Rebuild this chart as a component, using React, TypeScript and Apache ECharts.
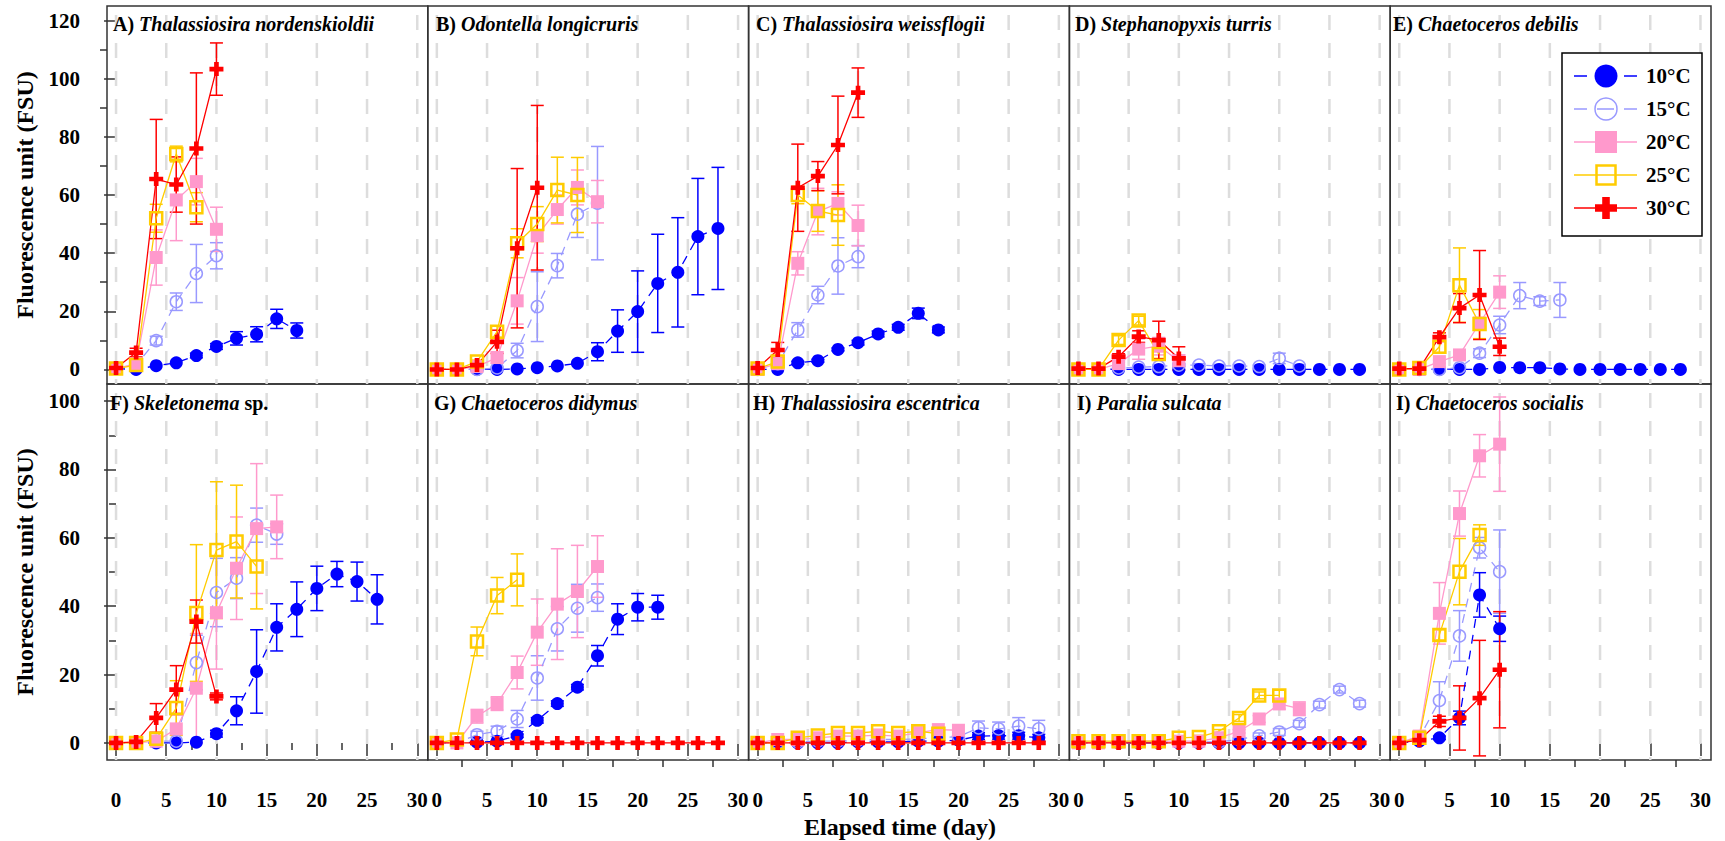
import React, { useEffect, useRef } from "react";
import * as echarts from "echarts";

const DAYS = [0, 2, 4, 6, 8, 10, 12, 14, 16, 18, 20, 22, 24, 26, 28];
const TEMPS = ["10°C", "15°C", "20°C", "25°C", "30°C"];
const COLORS = ["#0000ff", "#9999ff", "#ff99cc", "#ffcc00", "#ff0000"];

const PANEL_LETTERS = ["A)", "B)", "C)", "D)", "E)", "F)", "G)", "H)", "I)", "I)"];
const PANEL_SPECIES = [
  "Thalassiosira nordenskioldii", "Odontella longicruris", "Thalassiosira weissflogii",
  "Stephanopyxis turris", "Chaetoceros debilis", "Skeletonema", "Chaetoceros didymus",
  "Thalassiosira escentrica", "Paralia sulcata", "Chaetoceros socialis",
];
const PANEL_SUFFIX = ["", "", "", "", "", "sp.", "", "", "", ""];

const Z15 = [0, 0, 0, 0, 0, 0, 0, 0, 0, 0, 0, 0, 0, 0, 0];

// A) Thalassiosira nordenskioldii
const A10 = [0.3, 0, 1.3, 2.3, 4.8, 7.9, 10.7, 12.1, 17.4, 13.4];
const A10_SD = [0, 0, 0, 0, 0.8, 1, 2.3, 2.6, 3.3, 2.6];
const A15 = [0.3, 1.5, 9.9, 23.3, 33, 39.1];
const A15_SD = [0, 0.5, 1.5, 3, 10, 4.5];
const A20 = [0.3, 2, 38.5, 58.3, 64.6, 48.2];
const A20_SD = [0, 0.5, 9.5, 14, 8, 7.6];
const A25 = [0.3, 1.5, 52, 74.1, 55.8];
const A25_SD = [0, 0.5, 4.8, 2.7, 5];
const A30 = [0.5, 5.8, 65.5, 63.6, 76, 103.3];
const A30_SD = [0, 1.5, 20.5, 9.5, 26, 9];

// B) Odontella longicruris
const B10 = [0, 0, 0, 0, 0.2, 0.6, 1.2, 2.1, 6.1, 13.2, 19.9, 29.6, 33.4, 45.7, 48.5];
const B10_SD = [0, 0, 0, 0, 0, 0, 0, 0, 3.1, 7.3, 14, 16.9, 18.8, 20, 21];
const B15 = [0, 0, 0, 0.5, 6.5, 21.6, 35.7, 53.4, 57.2];
const B15_SD = [0, 0, 0, 0.5, 2.5, 12, 4.2, 8, 19.5];
const B20 = [0, 0, 1, 4.1, 23.6, 46, 55, 62.6, 57.7];
const B20_SD = [0, 0, 0.5, 2, 8, 6, 5, 6, 7.3];
const B25 = [0, 0, 2.7, 13, 43.4, 50, 61.7, 60];
const B25_SD = [0, 0, 0.5, 2, 5, 6, 11.3, 12.9];
const B30 = [0, 0, 1.5, 9.5, 41.7, 62.5];
const B30_SD = [0, 0, 0.5, 4, 27.4, 28.3];

// C) Thalassiosira weissflogii
const C10 = [0, 0, 2.3, 3, 6.9, 9.2, 12.2, 14.5, 19.3, 13.6];
const C10_SD = [0, 0, 0.5, 0.5, 0.5, 0.8, 1, 1, 1.8, 1];
const C15 = [0, 2, 13.6, 25.6, 35.6, 38.8];
const C15_SD = [0, 0.5, 2.5, 3, 9.7, 3.8];
const C20 = [0, 2, 36.5, 54.3, 57.1, 49.5];
const C20_SD = [0, 0.5, 4, 8, 4, 7];
const C25 = [0.3, 2.7, 60, 54.5, 53.1];
const C25_SD = [0, 0.5, 3, 7, 10.4];
const C30 = [0.5, 6.7, 62.5, 66.5, 77.2, 95.2];
const C30_SD = [0, 2.6, 15, 5, 16.8, 8.5];

// D) Stephanopyxis turris
const D10 = [0, 0, 0, 0, 0, 0, 0, 0, 0, 0, 0, 0, 0, 0, 0];
const D10_SD = Z15;
const D15 = [0, 0, 0.5, 0.8, 1, 1.5, 1.5, 1.2, 1.2, 1, 3.8, 1.2];
const D15_SD = [0, 0, 0, 0.5, 0.5, 0.5, 0.5, 0.5, 0.5, 0.5, 1.8, 0.5];
const D20 = [0, 0, 2, 7, 8, 3];
const D20_SD = [0, 0, 0.5, 3.5, 3, 2];
const D25 = [0, 0, 10.1, 16.8, 5.3];
const D25_SD = [0, 0, 1.5, 1.5, 1.5];
const D30 = [0.3, 0.3, 4.4, 11.3, 10.1, 3.8];
const D30_SD = [0, 0, 1, 2, 6.5, 4];

// E) Chaetoceros debilis
const E10 = [0, 0, 0, 0, 0, 0.7, 0.6, 0.6, 0.2, 0, 0, 0, 0, 0, 0];
const E10_SD = Z15;
const E15 = [0, 0, 0, 0.6, 5.6, 15.3, 25.4, 23.5, 23.9];
const E15_SD = [0, 0, 0, 0.5, 1.5, 3, 4.5, 1.5, 6];
const E20 = [0, 0, 2.7, 5, 15.9, 26.6];
const E20_SD = [0, 0, 0.5, 1, 2, 5.6];
const E25 = [0, 0.5, 7.8, 29, 15.6];
const E25_SD = [0, 0, 2, 12.8, 5];
const E30 = [0.3, 0.3, 11.1, 21.1, 25.6, 7.8];
const E30_SD = [0, 0, 1.5, 5, 15.3, 3];

// F) Skeletonema sp.
const F10 = [0, 0, 0, 0, 0.2, 2.7, 9.4, 20.9, 33.8, 39.1, 45.2, 49.4, 47.2, 42];
const F10_SD = [0, 0, 0, 0, 0, 1, 4.1, 12.2, 6.9, 8, 6.5, 3.7, 5.7, 7.2];
const F15 = [0, 0, 0.5, 0.5, 23.5, 44, 48.2, 63.7, 61.1];
const F15_SD = [0, 0, 0, 0, 8, 10, 6, 5, 3];
const F20 = [0, 0, 0.5, 4.1, 16, 38.1, 51.1, 62.7, 63.2];
const F20_SD = [0, 0, 0, 4, 16, 16.5, 15, 19, 9.3];
const F25 = [0, 0, 1.2, 10.2, 38, 56.4, 58.9, 51.6];
const F25_SD = [0, 0, 1, 8, 20, 20, 16.5, 12.4];
const F30 = [0, 0.3, 7.3, 15.6, 35.5, 13.6];
const F30_SD = [0, 0, 4.2, 7, 6.3, 1];

// G) Chaetoceros didymus
const G10 = [0, 0, 0.2, 0.5, 2.1, 6.6, 11.5, 16.3, 25.5, 36.2, 39.7, 39.7];
const G10_SD = [0, 0, 0, 0, 0.5, 0.8, 0.8, 0.8, 3, 4.5, 4, 3.5];
const G15 = [0, 0, 2.4, 3.4, 7, 19, 33.4, 39.4, 42.5];
const G15_SD = [0, 0, 1, 1.5, 2.5, 6.5, 6.5, 7, 4];
const G20 = [0, 0, 7.8, 11.5, 20.6, 32.4, 40.6, 44.3, 51.6];
const G20_SD = [0, 0, 2, 2, 4.8, 9.7, 16.2, 13.5, 9];
const G25 = [0, 1, 29.7, 43.1, 47.7];
const G25_SD = [0, 0, 4.2, 5.3, 7.6];
const G30 = [0, 0, 0, 0, 0, 0, 0, 0, 0, 0, 0, 0, 0, 0, 0];
const G30_SD = Z15;

// H) Thalassiosira escentrica
const H10 = [0, 0, 0, 0, 0, 0.3, 0.3, 0.3, 0.5, 0.5, 0.8, 2, 2.1, 2.1, 1.5];
const H10_SD = [0, 0, 0, 0, 0, 0, 0, 0, 0, 0, 0, 1, 1, 1, 1];
const H15 = [0, 0, 0.3, 0.5, 0.5, 0.8, 1, 1, 1.2, 1.5, 1.8, 4.4, 4.1, 4.9, 4.1];
const H15_SD = [0, 0, 0, 0, 0, 0, 0, 0, 0, 0, 0, 2, 2, 2.5, 2.5];
const H20 = [0, 1, 1, 1.5, 2, 2, 2.3, 2, 3, 3.9, 3.7];
const H20_SD = [0, 0, 0, 0, 0, 0, 0, 0, 0, 0, 0];
const H25 = [0, 0, 1.5, 2.2, 2.9, 2.9, 3.4, 2.9, 3.4, 2.7];
const H25_SD = [0, 0, 0.5, 0.5, 0.5, 0.5, 0.5, 0.5, 0.5, 0.5];
const H30 = [0, 0, 0, 0, 0, 0, 0, 0, 0, 0, 0, 0, 0, 0, 0];
const H30_SD = Z15;

// I) Paralia sulcata
const I10 = [0, 0, 0, 0, 0, 0, 0, 0, 0, 0, 0, 0, 0, 0, 0];
const I10_SD = Z15;
const I15 = [0, 0, 0.3, 0.3, 0.3, 0.3, 0.3, 0.3, 1, 2.1, 3.2, 5.6, 11.2, 15.6, 11.5];
const I15_SD = [0, 0, 0, 0, 0, 0, 0, 0, 0.5, 0.8, 1, 1, 1, 1, 1];
const I20 = [0, 0, 0.3, 0.5, 0.5, 0.5, 0.5, 1.5, 3.4, 7, 11.4, 10];
const I20_SD = [0, 0, 0, 0, 0, 0, 0, 0, 0.5, 1, 1.5, 2];
const I25 = [0.5, 0.5, 0.5, 0.5, 0.5, 1.5, 1.7, 3.4, 7.3, 13.9, 13.9];
const I25_SD = [0, 0, 0, 0, 0, 0, 0.5, 0.5, 1, 1, 1.5];
const I30 = [0, 0, 0, 0, 0, 0, 0, 0, 0, 0, 0, 0, 0, 0, 0];
const I30_SD = Z15;

// I) Chaetoceros socialis
const J10 = [0, 0.5, 1.5, 7.3, 43.3, 33.4];
const J10_SD = [0, 0, 0.5, 2, 6.5, 3.7];
const J15 = [0, 1.5, 12.4, 31.3, 57.1, 50.1];
const J15_SD = [0, 0, 5.5, 7.4, 3, 12.2];
const J20 = [0, 2, 37.9, 67.1, 84, 87.4];
const J20_SD = [0, 0, 9, 6.6, 6.2, 13.8];
const J25 = [0, 1.5, 31.6, 50.1, 60.8];
const J25_SD = [0, 0, 1.5, 9.7, 3];
const J30 = [0, 0.8, 6.3, 7.3, 13.1, 21.4];
const J30_SD = [0, 0, 1.5, 9.4, 16.9, 17];

const PANEL_MEANS = [
  [A10, A15, A20, A25, A30], [B10, B15, B20, B25, B30], [C10, C15, C20, C25, C30],
  [D10, D15, D20, D25, D30], [E10, E15, E20, E25, E30], [F10, F15, F20, F25, F30],
  [G10, G15, G20, G25, G30], [H10, H15, H20, H25, H30], [I10, I15, I20, I25, I30],
  [J10, J15, J20, J25, J30],
];
const PANEL_SDS = [
  [A10_SD, A15_SD, A20_SD, A25_SD, A30_SD], [B10_SD, B15_SD, B20_SD, B25_SD, B30_SD],
  [C10_SD, C15_SD, C20_SD, C25_SD, C30_SD], [D10_SD, D15_SD, D20_SD, D25_SD, D30_SD],
  [E10_SD, E15_SD, E20_SD, E25_SD, E30_SD], [F10_SD, F15_SD, F20_SD, F25_SD, F30_SD],
  [G10_SD, G15_SD, G20_SD, G25_SD, G30_SD], [H10_SD, H15_SD, H20_SD, H25_SD, H30_SD],
  [I10_SD, I15_SD, I20_SD, I25_SD, I30_SD], [J10_SD, J15_SD, J20_SD, J25_SD, J30_SD],
];

const X_MAJOR = [0, 5, 10, 15, 20, 25, 30];
const X_MINOR = [2.5, 7.5, 12.5, 17.5, 22.5, 27.5];
const Y_MAJOR = [[0, 20, 40, 60, 80, 100, 120], [0, 20, 40, 60, 80, 100]];
const Y_MINOR = [[10, 30, 50, 70, 90, 110], [10, 30, 50, 70, 90]];
const Y_RANGE = [[-5, 125], [-5, 105]];
const X_RANGE = [-0.9, 31.05];

// layout
const GRID_LEFT0 = 107;
const GRID_W = 320.8;
const ROW_TOP = [6, 384];
const ROW_H = [378, 376];
const TITLE_LEFT = [113, 436, 756, 1075, 1393, 110, 434, 753, 1077, 1396];
const TITLE_TOP = [14, 393];
const FONT = '"Liberation Serif", "Times New Roman", serif';

const PLUS_PATH = "path://M4,0L8,0L8,4L12,4L12,8L8,8L8,12L4,12L4,8L0,8L0,4L4,4Z";
const SYMBOLS = ["circle", "circle", "rect", "rect", PLUS_PATH];
const SYMBOL_SIZES = [13, 12, 13, 12, 14];
const ITEM_STYLES: any[] = [
  { color: COLORS[0] },
  { color: "rgba(0,0,0,0)", borderColor: COLORS[1], borderWidth: 1.5 },
  { color: COLORS[2] },
  { color: "rgba(0,0,0,0)", borderColor: COLORS[3], borderWidth: 2.5 },
  { color: COLORS[4] },
];
const LINE_DASHED = [true, true, false, false, false];

function errRender(color: string) {
  return (params: any, api: any) => {
    const x = api.value(0);
    const a = api.coord([x, api.value(1)]);
    const b = api.coord([x, api.value(2)]);
    const st = { stroke: color, lineWidth: 1.5 };
    const hw = 6.5;
    return {
      type: "group",
      children: [
        { type: "line", shape: { x1: a[0], y1: a[1], x2: b[0], y2: b[1] }, style: st },
        { type: "line", shape: { x1: a[0] - hw, y1: a[1], x2: a[0] + hw, y2: a[1] }, style: st },
        { type: "line", shape: { x1: b[0] - hw, y1: b[1], x2: b[0] + hw, y2: b[1] }, style: st },
      ],
    };
  };
}

function gridLineRender(ymin: number, ymax: number) {
  return (params: any, api: any) => {
    const x = api.value(0);
    const a = api.coord([x, ymax]);
    const b = api.coord([x, ymin]);
    return {
      type: "line",
      shape: { x1: a[0], y1: a[1], x2: b[0], y2: b[1] },
      style: { stroke: "#dddddd", lineWidth: 2.5, lineDash: [15, 13], lineDashOffset: 19 },
    };
  };
}

function buildOption() {
  const grids: any[] = [];
  const xAxes: any[] = [];
  const yAxes: any[] = [];
  const series: any[] = [];
  const titles: any[] = [];
  const tickLine = { color: "#333", width: 1.5 };
  const labelStyle = { fontFamily: FONT, fontWeight: "bold", fontSize: 21, color: "#000" };

  for (let p = 0; p < 10; p++) {
    const r = p < 5 ? 0 : 1;
    const c = p % 5;
    grids.push({
      left: GRID_LEFT0 + c * GRID_W, top: ROW_TOP[r], width: GRID_W, height: ROW_H[r],
      show: true, borderColor: "#333", borderWidth: 1.5, backgroundColor: "rgba(0,0,0,0)",
      containLabel: false, outerBoundsMode: "none",
    });
    const xi = xAxes.length;
    xAxes.push({
      gridIndex: p, type: "value", min: X_RANGE[0], max: X_RANGE[1], position: "bottom",
      axisLine: { show: false }, splitLine: { show: false },
      axisTick: { show: r === 1, customValues: X_MAJOR, length: 13, lineStyle: tickLine },
      axisLabel: { show: r === 1, customValues: X_MAJOR, margin: 29, ...labelStyle },
    });
    if (r === 1) {
      xAxes.push({
        gridIndex: p, type: "value", min: X_RANGE[0], max: X_RANGE[1], position: "bottom",
        axisLine: { show: false }, splitLine: { show: false },
        axisTick: { show: true, customValues: X_MINOR, length: 7, lineStyle: tickLine },
        axisLabel: { show: false },
      });
    }
    const yi = yAxes.length;
    yAxes.push({
      gridIndex: p, type: "value", min: Y_RANGE[r][0], max: Y_RANGE[r][1], position: "left",
      axisLine: { show: false }, splitLine: { show: false },
      axisTick: { show: c === 0, customValues: Y_MAJOR[r], length: 12, lineStyle: tickLine },
      axisLabel: { show: c === 0, customValues: Y_MAJOR[r], margin: 27, ...labelStyle },
    });
    if (c === 0) {
      yAxes.push({
        gridIndex: p, type: "value", min: Y_RANGE[r][0], max: Y_RANGE[r][1], position: "left",
        axisLine: { show: false }, splitLine: { show: false },
        axisTick: { show: true, customValues: Y_MINOR[r], length: 7, lineStyle: tickLine },
        axisLabel: { show: false },
      });
    }

    series.push({
      type: "custom", xAxisIndex: xi, yAxisIndex: yi, silent: true, z: 1,
      data: X_MAJOR.map((v) => [v]),
      encode: { x: 0 },
      renderItem: gridLineRender(Y_RANGE[r][0], Y_RANGE[r][1]),
    });

    for (let k = 0; k < 5; k++) {
      const vals = PANEL_MEANS[p][k];
      const sds = PANEL_SDS[p][k];
      const errData: number[][] = [];
      vals.forEach((v, i) => {
        const sd = sds[i] || 0;
        if (sd > 0) errData.push([DAYS[i], v - sd, v + sd]);
      });
      series.push({
        type: "custom", xAxisIndex: xi, yAxisIndex: yi, silent: true, z: 3, clip: true,
        data: errData, encode: { x: 0, y: [1, 2] },
        renderItem: errRender(COLORS[k]),
      });
      series.push({
        type: "line", name: TEMPS[k], xAxisIndex: xi, yAxisIndex: yi, silent: true, z: 3,
        data: vals.map((v, i) => [DAYS[i], v]),
        symbol: SYMBOLS[k], symbolSize: SYMBOL_SIZES[k], showSymbol: true,
        itemStyle: ITEM_STYLES[k],
        lineStyle: { color: COLORS[k], width: 1.3, type: LINE_DASHED[k] ? [9, 7] : "solid" },
        emphasis: { disabled: true },
      });
    }

    const sfx = PANEL_SUFFIX[p] ? ` {a|${PANEL_SUFFIX[p]}}` : "";
    titles.push({
      left: TITLE_LEFT[p], top: TITLE_TOP[r], padding: 0,
      text: `{a|${PANEL_LETTERS[p]}} {b|${PANEL_SPECIES[p]}}${sfx}`,
      textStyle: {
        fontFamily: FONT, fontSize: 20, fontWeight: "bold", color: "#000",
        rich: {
          a: { fontFamily: FONT, fontSize: 20, fontWeight: "bold", fontStyle: "normal", color: "#000" },
          b: { fontFamily: FONT, fontSize: 20, fontWeight: "bold", fontStyle: "italic", color: "#000" },
        },
      },
    });
  }

  // legend (drawn as graphics)
  const graphic: any[] = [];
  const LX = 1562, LY = 53, LW = 140, LH = 183;
  graphic.push({ type: "rect", z: 100, shape: { x: LX, y: LY, width: LW, height: LH }, style: { fill: "#fff", stroke: "#000", lineWidth: 1.5 } });
  for (let i = 0; i < 5; i++) {
    const y = 76 + i * 33;
    const cx = 1606;
    graphic.push({
      type: "line", z: 101, shape: { x1: 1574, y1: y, x2: 1637, y2: y },
      style: { stroke: COLORS[i], lineWidth: 1.3, lineDash: LINE_DASHED[i] ? [13, 10, 17, 10, 13, 10] : null },
    });
    if (i === 0) graphic.push({ type: "circle", z: 102, shape: { cx, cy: y, r: 11.5 }, style: { fill: COLORS[0] } });
    if (i === 1) graphic.push({ type: "circle", z: 102, shape: { cx, cy: y, r: 11 }, style: { fill: "none", stroke: COLORS[1], lineWidth: 1.5 } });
    if (i === 2) graphic.push({ type: "rect", z: 102, shape: { x: cx - 11, y: y - 11, width: 22, height: 22 }, style: { fill: COLORS[2] } });
    if (i === 3) graphic.push({ type: "rect", z: 102, shape: { x: cx - 9.5, y: y - 9.5, width: 19, height: 19 }, style: { fill: "none", stroke: COLORS[3], lineWidth: 2.5 } });
    if (i === 4) {
      const h = 11, t = 3.8;
      graphic.push({
        type: "polygon", z: 102,
        shape: {
          points: [
            [cx - t, y - h], [cx + t, y - h], [cx + t, y - t], [cx + h, y - t], [cx + h, y + t], [cx + t, y + t],
            [cx + t, y + h], [cx - t, y + h], [cx - t, y + t], [cx - h, y + t], [cx - h, y - t], [cx - t, y - t],
          ],
        },
        style: { fill: COLORS[4] },
      });
    }
    graphic.push({
      type: "text", z: 102, x: 1646, y,
      style: { text: TEMPS[i], fontFamily: FONT, fontSize: 21, fontWeight: "bold", fill: "#000", align: "left", verticalAlign: "middle" },
    });
  }

  // axis names
  const nameStyle = { fontFamily: FONT, fontSize: 24, fontWeight: "bold", fill: "#000", align: "center", verticalAlign: "middle" };
  graphic.push({ type: "text", x: 25, y: 195, rotation: Math.PI / 2, style: { text: "Fluorescence unit (FSU)", ...nameStyle } });
  graphic.push({ type: "text", x: 25, y: 572, rotation: Math.PI / 2, style: { text: "Fluorescence unit (FSU)", ...nameStyle } });
  graphic.push({ type: "text", x: 900, y: 827, style: { text: "Elapsed time (day)", ...nameStyle } });

  return {
    animation: false,
    backgroundColor: "#ffffff",
    title: titles,
    grid: grids,
    xAxis: xAxes,
    yAxis: yAxes,
    series,
    graphic,
  };
}

export default function App() {
  const ref = useRef<HTMLDivElement>(null);
  useEffect(() => {
    document.body.style.margin = "0";
    if (!ref.current) return;
    const chart = echarts.init(ref.current, undefined, { renderer: "svg" });
    chart.setOption(buildOption() as any);
    return () => chart.dispose();
  }, []);
  return <div ref={ref} style={{ position: "absolute", left: 0, top: 0, width: 1725, height: 841 }} />;
}
